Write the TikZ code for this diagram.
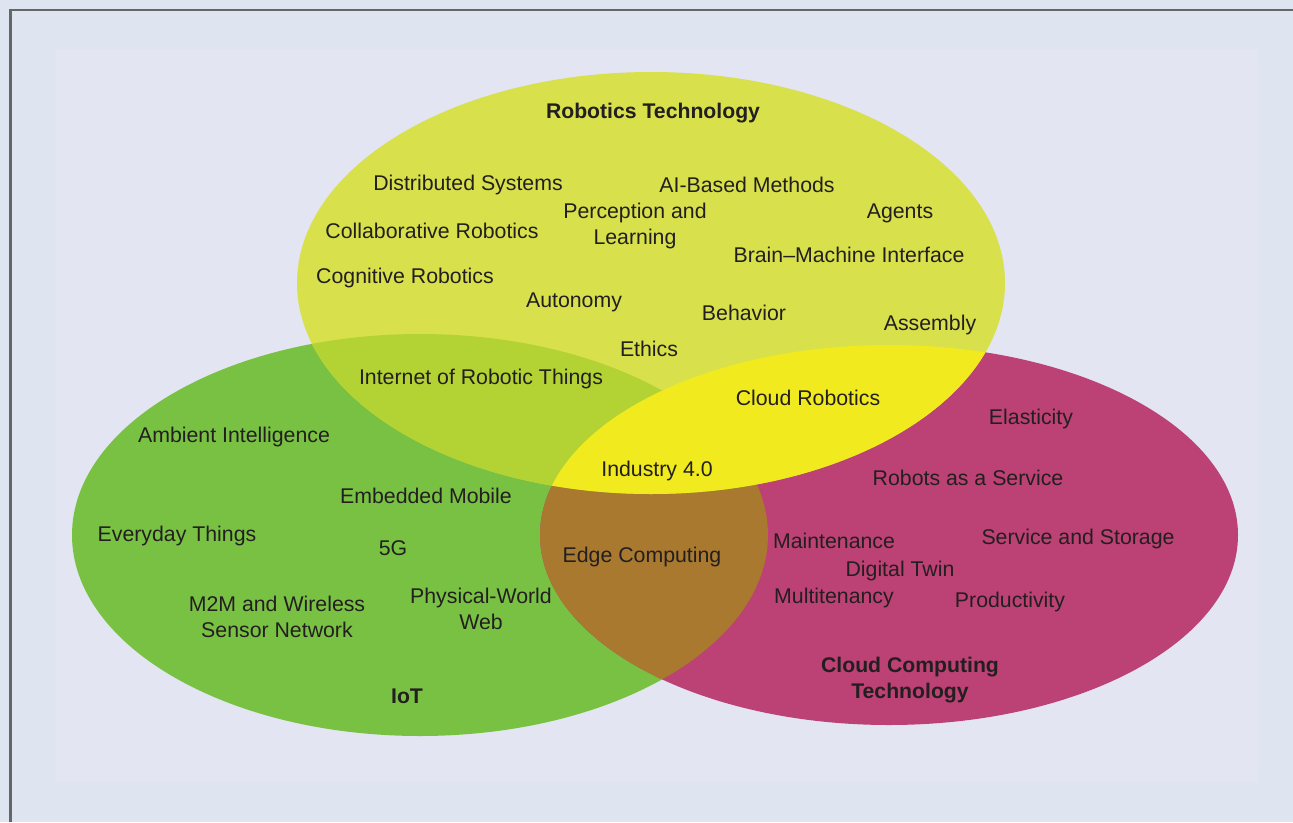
\documentclass[tikz,border=0pt]{standalone}
\usepackage{fontspec}
\setmainfont{Liberation Sans}
\definecolor{bgout}{HTML}{DFE4F1}
\definecolor{bgin}{HTML}{E3E5F2}
\definecolor{frame}{HTML}{666666}
\definecolor{cY}{HTML}{D8E04C}
\definecolor{cG}{HTML}{79C143}
\definecolor{cM}{HTML}{BC4174}
\definecolor{cYG}{HTML}{B3D334}
\definecolor{cBY}{HTML}{F1EA1F}
\definecolor{cBr}{HTML}{A8792E}
\definecolor{txt}{HTML}{231F20}
\begin{document}
\begin{tikzpicture}[x=1pt,y=-1pt,
  lbl/.style={font=\fontsize{21.3}{26}\selectfont, text=txt, align=center, inner sep=0pt, yshift=-2pt},
  ttl/.style={font=\fontsize{21.2}{25.5}\selectfont\bfseries, text=txt, align=center, inner sep=0pt, yshift=-2pt},
  robE/.style={x radius=354pt, y radius=211pt},
  iotE/.style={x radius=348pt, y radius=201pt},
  cldE/.style={x radius=349pt, y radius=190pt}]
\useasboundingbox (0,0) rectangle (1293,822);
\fill[bgout] (0,0) rectangle (1293,822);
\fill[bgin] (56,49) rectangle (1258,782);
\draw[frame, line width=2.2pt] (10.5,822) -- (10.5,10) -- (1293,10);

\coordinate (rob) at (651,283);
\coordinate (iot) at (420,535);
\coordinate (cld) at (889,535);

\fill[cG] (iot) ellipse [iotE];
\fill[cM] (cld) ellipse [cldE];
\fill[cY] (rob) ellipse [robE];
\begin{scope}
  \clip (iot) ellipse [iotE];
  \fill[cBr] (cld) ellipse [cldE];
\end{scope}
\begin{scope}
  \clip (rob) ellipse [robE];
  \fill[cYG] (iot) ellipse [iotE];
  \fill[cBY] (cld) ellipse [cldE];
\end{scope}

% Robotics
\node[ttl] (t1) at (653,111) {Robotics Technology};
\node[lbl] (r1) at (468,183) {Distributed Systems};
\node[lbl] (r2) at (747,183) {AI-Based Methods};
\node[lbl] (r3) at (635,224) {Perception and\\Learning};
\node[lbl] (r4) at (900,211) {Agents};
\node[lbl] (r5) at (432,229) {Collaborative Robotics};
\node[lbl] (r6) at (849,253) {Brain–Machine Interface};
\node[lbl] (r7) at (405,276) {Cognitive Robotics};
\node[lbl] (r8) at (574,300) {Autonomy};
\node[lbl] (r9) at (744,311) {Behavior};
\node[lbl] (r10) at (930,323) {Assembly};
\node[lbl] (r11) at (649,347) {Ethics};
\node[lbl] (r12) at (481,377) {Internet of Robotic Things};
\node[lbl] (r13) at (808,396) {Cloud Robotics};
\node[lbl] (r14) at (657,469) {Industry 4.0};
% Cloud
\node[lbl] (c1) at (1031,417) {Elasticity};
\node[lbl] (c2) at (968,476) {Robots as a Service};
\node[lbl] (c3) at (1078,537) {Service and Storage};
\node[lbl] (c4) at (834,539) {Maintenance};
\node[lbl] (c5) at (900,569) {Digital Twin};
\node[lbl] (c6) at (834,596) {Multitenancy};
\node[lbl] (c7) at (1010,600) {Productivity};
\node[lbl] (c8) at (642,555) {Edge Computing};
\node[ttl] (t3) at (910,678) {Cloud Computing\\Technology};
% IoT
\node[lbl] (i1) at (234,435) {Ambient Intelligence};
\node[lbl] (i2) at (426,494) {Embedded Mobile};
\node[lbl] (i3) at (177,534) {Everyday Things};
\node[lbl] (i4) at (393,546) {5G};
\node[lbl] (i5) at (277,615) {M2M and Wireless\\Sensor Network};
\node[lbl] (i6) at (481,607) {Physical-World\\Web};
\node[ttl] (t2) at (407,694) {IoT};
\end{tikzpicture}
\end{document}
